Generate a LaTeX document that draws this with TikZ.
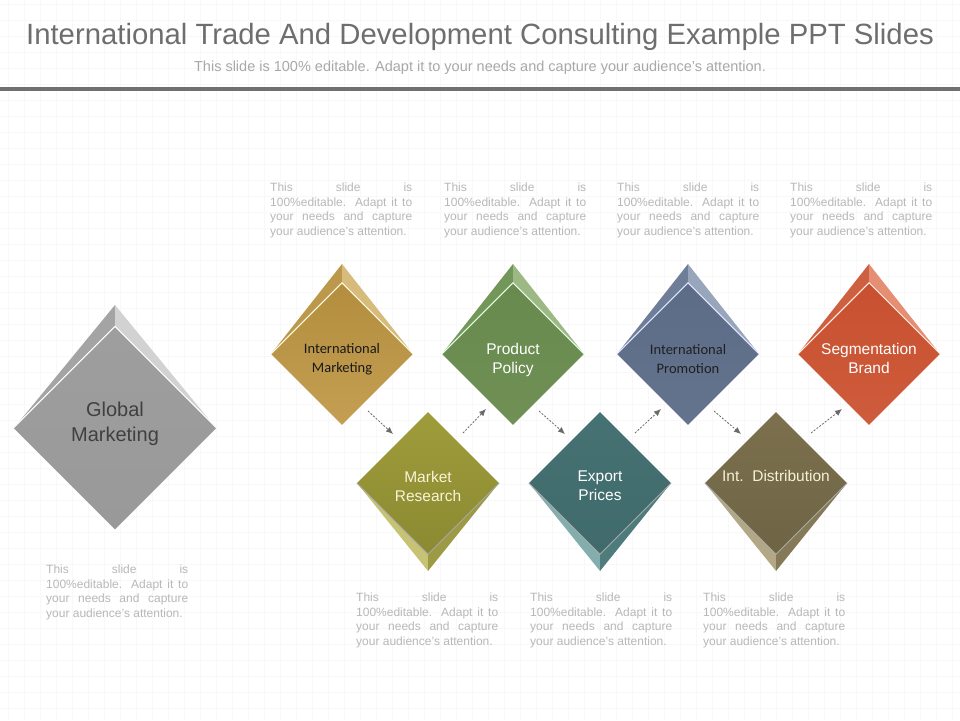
\documentclass[tikz,border=0pt]{standalone}
\usepackage{fontspec}
\setmainfont{Liberation Sans}
\newfontfamily\calib{Carlito}
\usepackage{tikz}
\usetikzlibrary{shapes.geometric, arrows.meta, positioning}

% colours of the slide
\definecolor{titlegray}{HTML}{6E6E6E}
\definecolor{subgray}{HTML}{A8A8A8}
\definecolor{rulegray}{HTML}{707070}
\definecolor{blurbgray}{HTML}{B8B8B8}
\definecolor{gridgray}{HTML}{F8F8F8}
\definecolor{arrowgray}{HTML}{6A6A6A}

\tikzset{
  gem/.style={diamond, aspect=1, inner sep=0pt,
    minimum width=142pt, minimum height=142pt},
  gemtext/.style={align=center, inner sep=0pt, font=\fontsize{15.5}{19}\selectfont},
  blurb/.style={anchor=north west, inner sep=0pt, text width=142pt,
    align=justify, text=blurbgray,
    font=\fontsize{12}{14.5}\selectfont},
  flow/.style={draw=arrowgray, line width=0.8pt, dash pattern=on 2pt off 1.5pt,
    -{Latex[length=7pt,width=6pt]}},
  gridline/.style={draw=gridgray, line width=0.5pt}
}

% bevel above a diamond: x, y, half, ext, left colour, right colour (HTML)
\newcommand{\capup}[6]{%
  \definecolor{capl}{HTML}{#5}\definecolor{capr}{HTML}{#6}%
  \fill[capl] (#1,#2-#3-#4) -- (#1-#3,#2) -- (#1,#2-#3) -- cycle;
  \fill[capr] (#1,#2-#3-#4) -- (#1+#3,#2) -- (#1,#2-#3) -- cycle;
}
% bevel below a diamond
\newcommand{\capdown}[6]{%
  \definecolor{capl}{HTML}{#5}\definecolor{capr}{HTML}{#6}%
  \fill[capl] (#1,#2+#3+#4) -- (#1-#3,#2) -- (#1,#2+#3) -- cycle;
  \fill[capr] (#1,#2+#3+#4) -- (#1+#3,#2) -- (#1,#2+#3) -- cycle;
}
\newcommand{\blurbtext}{\parfillskip=0pt This slide is\linebreak
  100\%editable. Adapt it to\linebreak your needs and capture\linebreak
  your audience’s attention.}

\begin{document}
\begin{tikzpicture}[x=1pt, y=-1pt]
  % fondo
  \useasboundingbox[fill=white] (0,0) rectangle (960,720);
  \foreach \gx in {8,24,...,960} \draw[gridline] (\gx,0) -- (\gx,720);
  \foreach \gy in {4,20,...,720} \draw[gridline] (0,\gy) -- (960,\gy);

  % title
  \node[text=titlegray, font=\fontsize{29.3}{33}\selectfont] (title) at (480,37)
    {International Trade And Development Consulting Example PPT Slides};
  \node[text=subgray, font=\fontsize{14.5}{16}\selectfont] (subtitle) at (480,68)
    {This slide is 100\% editable. Adapt it to your needs and capture your audience’s attention.};
  \draw[rulegray, line width=4pt] (0,89) -- (960,89);

  % Global Marketing
  \capup{115}{428}{101}{22}{A4A4A4}{D2D2D2}
  \node[gem, minimum width=203pt, minimum height=203pt,
    top color=black!38, middle color=black!20, bottom color=black!40] (gm) at (115,428) {};
  \draw[white, line width=1pt] (gm.west) -- (gm.north) -- (gm.east);
  \node[gemtext, text=black!75, font=\fontsize{20}{25}\selectfont] (gmt)
    at ([yshift=4.5pt]gm.center) {Global\\Marketing};

  % upper row
  \capup{342}{354}{71}{19}{BC984C}{D6BB7C}
  \node[gem, top color={rgb,255:red,180;green,142;blue,62},
    middle color={rgb,255:red,212;green,178;blue,112},
    bottom color={rgb,255:red,196;green,158;blue,82}] (im) at (342,354) {};
  \draw[white!90!yellow, line width=1pt] (im.west) -- (im.north) -- (im.east);
  \node[gemtext, text=black!90, font=\calib\fontsize{14.5}{19}\selectfont] (imt)
    at ([yshift=-5pt]im.center) {International\\Marketing};

  \capup{513}{354}{71}{19}{739659}{9CB884}
  \node[gem, top color={rgb,255:red,104;green,138;blue,78},
    middle color={rgb,255:red,146;green,176;blue,120},
    bottom color={rgb,255:red,112;green,144;blue,86}] (pp) at (513,354) {};
  \draw[white!90!green, line width=1pt] (pp.west) -- (pp.north) -- (pp.east);
  \node[gemtext, text=white] (ppt) at ([yshift=-6pt]pp.center) {Product\\Policy};

  \capup{688}{354}{71}{19}{6E7E98}{98A6BC}
  \node[gem, top color={rgb,255:red,92;green,108;blue,134},
    middle color={rgb,255:red,138;green,152;blue,176},
    bottom color={rgb,255:red,100;green,116;blue,142}] (ip) at (688,354) {};
  \draw[white!90!blue, line width=1pt] (ip.west) -- (ip.north) -- (ip.east);
  \node[gemtext, text=black!88, font=\calib\fontsize{14.5}{19}\selectfont] (ipt)
    at ([yshift=-5pt]ip.center) {International\\Promotion};

  \capup{869}{354}{71}{19}{CE6042}{E58E74}
  \node[gem, top color={rgb,255:red,200;green,80;blue,48},
    middle color={rgb,255:red,226;green,126;blue,96},
    bottom color={rgb,255:red,206;green,92;blue,60}] (sb) at (869,354) {};
  \draw[white!90!orange, line width=1pt] (sb.west) -- (sb.north) -- (sb.east);
  \node[gemtext, text=white] (sbt) at ([yshift=-4pt]sb.center) {Segmentation\\Brand};

  % lower row
  \capdown{428}{483}{71}{17}{C6C474}{9C9A44}
  \node[gem, top color={rgb,255:red,158;green,156;blue,58},
    middle color={rgb,255:red,186;green,184;blue,86},
    bottom color={rgb,255:red,140;green,138;blue,50}] (mr) at (428,483) {};
  \draw[black!35, line width=0.8pt] (mr.west) -- (mr.south) -- (mr.east);
  \node[gemtext, text={rgb,255:red,248;green,244;blue,214}] (mrt)
    at ([yshift=-3pt]mr.center) {Market\\Research};

  \capdown{600}{483}{71}{17}{84AEAE}{4E7C7C}
  \node[gem, top color={rgb,255:red,70;green,114;blue,116},
    middle color={rgb,255:red,114;green,156;blue,156},
    bottom color={rgb,255:red,64;green,106;blue,108}] (ep) at (600,483) {};
  \draw[black!35, line width=0.8pt] (ep.west) -- (ep.south) -- (ep.east);
  \node[gemtext, text=white] (ept) at ([yshift=-3pt]ep.center) {Export\\Prices};

  \capdown{776}{483}{71}{17}{B2A886}{857958}
  \node[gem, top color={rgb,255:red,124;green,112;blue,78},
    middle color={rgb,255:red,160;green,148;blue,112},
    bottom color={rgb,255:red,110;green,100;blue,68}] (id) at (776,483) {};
  \draw[black!35, line width=0.8pt] (id.west) -- (id.south) -- (id.east);
  \node[gemtext, text={rgb,255:red,246;green,240;blue,214}] (idt)
    at ([yshift=7pt]id.center) {Int.\ \ Distribution};

  % dashed arrows
  \draw[flow] ([shift={(26,57)}]im.center) -- ([shift={(-35,-49)}]mr.center);
  \draw[flow] ([shift={(35,-50)}]mr.center) -- ([shift={(-27,55)}]pp.center);
  \draw[flow] ([shift={(26,57)}]pp.center) -- ([shift={(-35,-49)}]ep.center);
  \draw[flow] ([shift={(35,-50)}]ep.center) -- ([shift={(-27,55)}]ip.center);
  \draw[flow] ([shift={(26,57)}]ip.center) -- ([shift={(-35,-49)}]id.center);
  \draw[flow] ([shift={(35,-50)}]id.center) -- ([shift={(-27,55)}]sb.center);

  % text blocks
  \node[blurb] (tgm) at (46,565) {\blurbtext};
  \node[blurb] (tim) at (270,183) {\blurbtext};
  \node[blurb] (tpp) at (444,183) {\blurbtext};
  \node[blurb] (tip) at (617,183) {\blurbtext};
  \node[blurb] (tsb) at (790,183) {\blurbtext};
  \node[blurb] (tmr) at (356,593) {\blurbtext};
  \node[blurb] (tep) at (530,593) {\blurbtext};
  \node[blurb] (tid) at (703,593) {\blurbtext};
\end{tikzpicture}
\end{document}
